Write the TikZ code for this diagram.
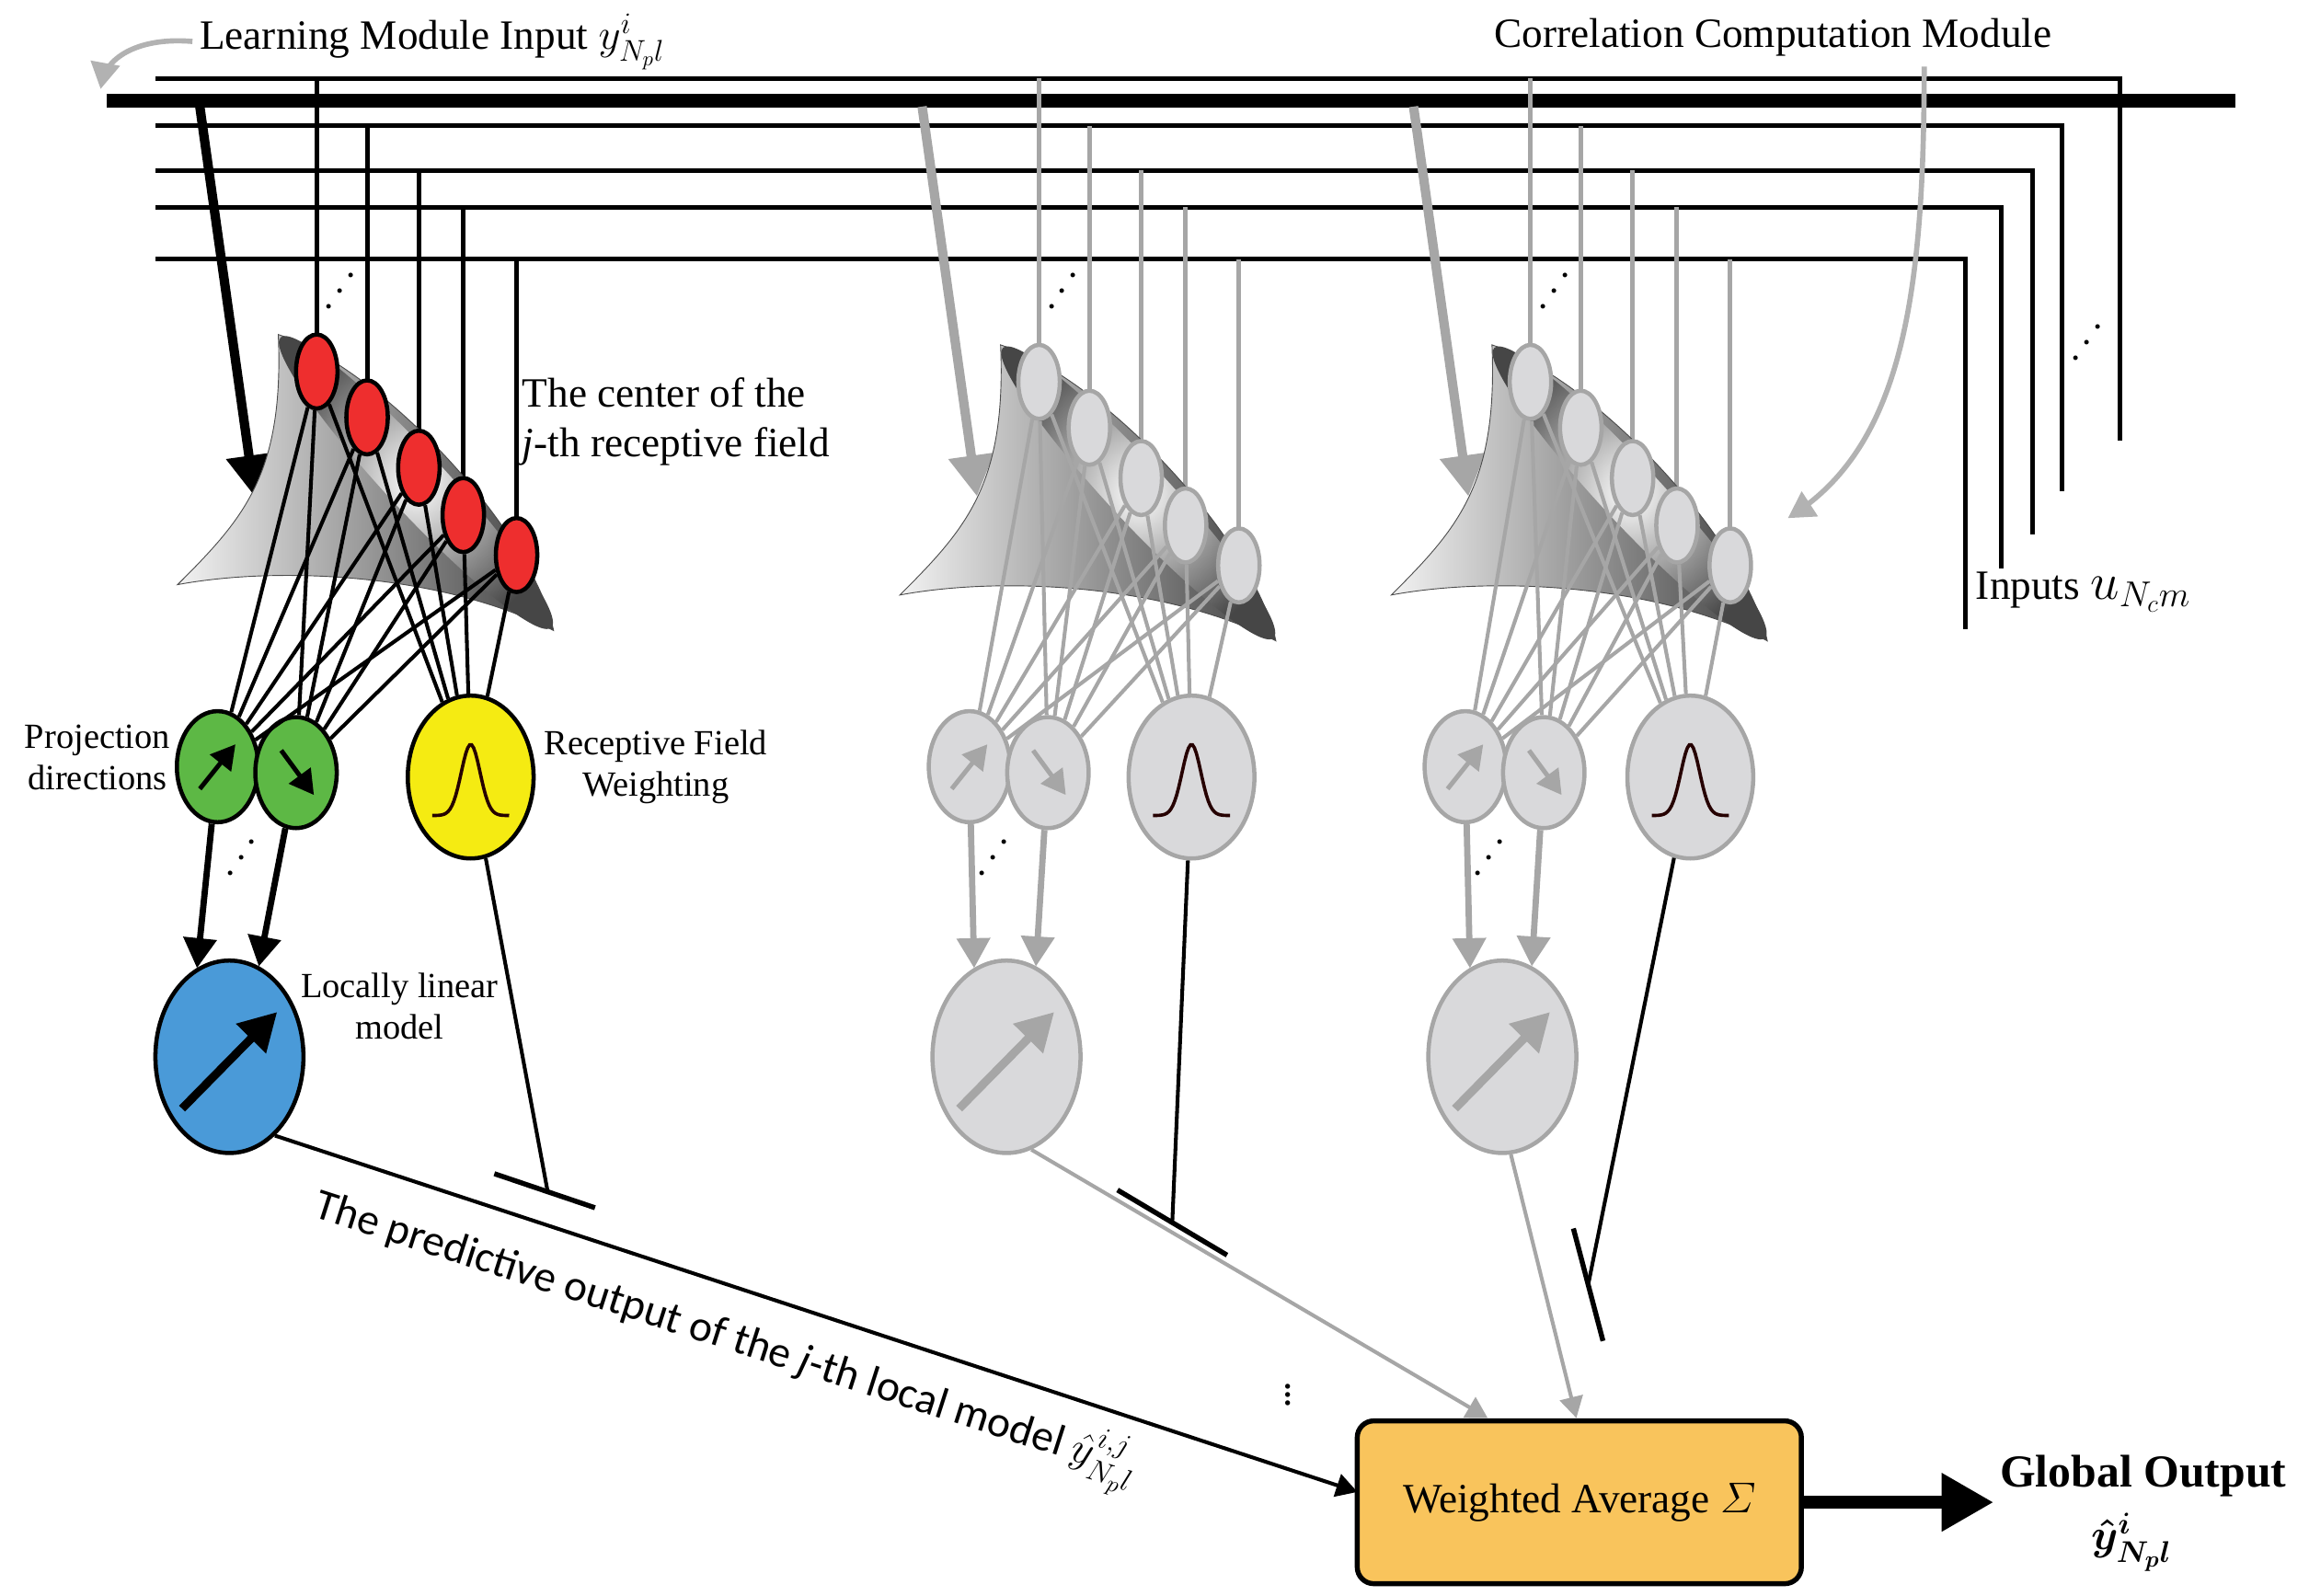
\documentclass[tikz,border=0pt]{standalone}
\usepackage{amsmath}
\usepackage{fontspec}
\setmainfont{Liberation Serif}
\newfontfamily\labelfont{Carlito}
\usetikzlibrary{arrows,shapes.geometric,calc}

\definecolor{rfred}{HTML}{EE2E2E}
\definecolor{pdgreen}{HTML}{5DB845}
\definecolor{wyellow}{HTML}{F5EB12}
\definecolor{llblue}{HTML}{4A9AD8}
\definecolor{ghost}{HTML}{D9D9DB}
\definecolor{avgorange}{HTML}{F9C45C}

\begin{document}
\begin{tikzpicture}[x=0.025cm,y=-0.025cm,font=\fontsize{20}{24}\selectfont]
\useasboundingbox (0,0) rectangle (1560,1078);
\tikzstyle{bus} = [line width=2.2pt]
\tikzstyle{mainbus} = [line width=6.5pt]
\tikzstyle{rfnode} = [ellipse, draw, line width=2pt, minimum width=0.7cm, minimum height=1.25cm, inner sep=0]
\tikzstyle{pdnode} = [ellipse, draw, line width=2pt, minimum width=1.375cm, minimum height=1.875cm, inner sep=0]
\tikzstyle{wnode} = [ellipse, draw, line width=2pt, minimum width=2.125cm, minimum height=2.75cm, inner sep=0]
\tikzstyle{llnode} = [ellipse, draw, line width=2pt, minimum width=2.5cm, minimum height=3.25cm, inner sep=0]
\tikzstyle{link} = [line width=1.8pt]
\tikzstyle{feed} = [line width=3pt, -triangle 60]
\tikzstyle{inarrow} = [line width=4.5pt, -triangle 60]
\tikzstyle{dots} = [rotate=55, inner sep=0]

% input buses
\draw [bus] (105,53) -- (1432,53) -- (1432,298);
\draw [mainbus] (72,68) -- (1510,68);
\draw [bus] (105,85) -- (1393,85) -- (1393,332);
\draw [bus] (105,115) -- (1373,115) -- (1373,361);
\draw [bus] (105,140) -- (1352,140) -- (1352,384);
\draw [bus] (105,175) -- (1328,175) -- (1328,425);
\node [dots] (bd) at (1412,230) {$\cdots$};

% receptive field modules
\foreach \m/\dx/\dy/\gx/\wx/\bx/\lc/\rc/\gc/\yc/\bc/\ac/\oa in {
  1/0/0/0/0/0/black/rfred/pdgreen/wyellow/llblue/black/-60,
  2/488/7/508/487/525/gray!70/ghost/ghost/ghost/ghost/gray!70/-75,
  3/820/7/843/824/860/gray!70/ghost/ghost/ghost/ghost/gray!70/-85}
{
  \coordinate (s\m) at ({135+\dx},72);
  \coordinate (e\m) at ({172+\dx},335);
  \draw [inarrow, \ac] (s\m) -- (e\m);
  \foreach \k/\x/\y/\by in {1/214/251/53, 2/248/282/85, 3/283/316/115, 4/313/348/140, 5/349/375/175}
    \draw [bus, \lc] ({\x+\dx},\by) -- ({\x+\dx},{\y+\dy});
  \node [dots] (vd\m) at ({232+\dx},195) {$\cdots$};
  \begin{scope}[shift={(\dx,\dy)}]
    \shade [left color=gray!10, right color=black!75, draw=gray!60!black, thin]
      (188,226) .. controls (192,320) and (165,350) .. (120,395)
      .. controls (190,382) and (300,388) .. (374,426)
      .. controls (360,360) and (260,250) .. (188,226) -- cycle;
    \shade [inner color=white, outer color=gray!55!black, rotate around={-47:(281,326)}]
      (281,326) ellipse [x radius=3.35cm, y radius=0.5cm];
  \end{scope}
  \foreach \k/\x/\y in {1/214/251, 2/248/282, 3/283/316, 4/313/348, 5/349/375}
    \node [rfnode, draw=\lc, fill=\rc] (r\m-\k) at ({\x+\dx},{\y+\dy}) {};
  \node [pdnode, draw=\lc, fill=\gc] (g\m-1) at ({147+\gx},518) {};
  \node [pdnode, draw=\lc, fill=\gc] (g\m-2) at ({200+\gx},522) {};
  \node [wnode, draw=\lc, fill=\yc] (w\m) at ({318+\wx},525) {};
  \node [llnode, draw=\lc, fill=\bc] (b\m) at ({155+\bx},714) {};
  \foreach \k in {1,...,5} {
    \draw [link, \lc] (r\m-\k) -- (g\m-1);
    \draw [link, \lc] (r\m-\k) -- (g\m-2);
    \draw [link, \lc] (r\m-\k) -- (w\m);
  }
  \draw [line width=1.6pt, black!85!red, shift={(w\m.center)}]
    plot [domain=-26:26, samples=40] (\x, {26-48*exp(-(\x/9)^2)});
  \draw [feed, \ac, line width=2.2pt] ($(g\m-1)+(-12,15)$) -- ($(g\m-1)+(12,-15)$);
  \draw [feed, \ac, line width=2.2pt] ($(g\m-2)+(-10,-15)$) -- ($(g\m-2)+(12,15)$);
  \draw [feed, \ac, line width=4pt] ($(b\m)+(-32,35)$) -- ($(b\m)+(32,-30)$);
  \draw [feed, \ac] (g\m-1) -- (b\m.110);
  \draw [feed, \ac] (g\m-2) -- (b\m.72);
  \coordinate (o\m) at (b\m.\oa);
  \node [dots] (pd\m) at ({165+\gx},578) {$\cdots$};
}

% labels
\node [anchor=west] (lmi) at (130,28) {Learning Module Input $y^{i}_{N_p l}$};
\node (ccm) at (1198,25) {Correlation Computation Module};
\node [anchor=west, align=left] (ctr) at (348,285) {The center of the\\\textit{j}-th receptive field};
\node [anchor=west] (inp) at (1330,400) {Inputs {\fontsize{26}{26}\selectfont$u_{N_c m}$}};
\node [anchor=east, align=center, font=\fontsize{17}{20}\selectfont] (pdtxt) at (120,512) {Projection\\directions};
\node [align=center, font=\fontsize{17}{20}\selectfont] (rfw) at (443,518) {Receptive Field\\Weighting};
\node [align=center, font=\fontsize{17}{20}\selectfont] (llt) at (270,680) {Locally linear\\model};
\node [font=\labelfont\fontsize{21}{24}\selectfont, rotate=-17.8] (pout) at (490,905)
  {The predictive output of the \textit{j}-th local model $\hat{y}^{i,j}_{N_p l}$};
\node (vdot) at (870,938) {$\vdots$};

% output stage
\node [draw, line width=2.4pt, fill=avgorange, rounded corners=8pt, minimum width=7.5cm, minimum height=2.75cm] (avg) at (1067,1015) {Weighted Average $\varSigma$};
\node [font=\bfseries\fontsize{22}{26}\selectfont] (gout) at (1448,997) {Global Output};
\node [font=\fontsize{22}{26}\selectfont] (gy) at (1440,1042) {$\boldsymbol{\hat{y}^{i}_{N_p l}}$};
\coordinate (a1) at (917,1008);
\coordinate (a2) at (1005,958);
\coordinate (a3) at (1065,958);
\draw [feed, line width=1.8pt] (o1) -- (a1);
\draw [feed, gray!70, line width=1.8pt] (o2) -- (a2);
\draw [feed, gray!70, line width=1.8pt] (o3) -- (a3);
\draw [line width=6pt, -triangle 60] (avg.east) -- (gout.west |- avg.east);

% weighting outputs
\coordinate (t1) at (370,805);
\coordinate (t2) at (792,826);
\coordinate (t3) at (1073,868);
\draw [link] (w1) -- (t1);
\draw [link] (w2) -- (t2);
\draw [link] (w3) -- (t3);
\draw [line width=2.4pt] ($(t1)+(-36,-12)$) -- ($(t1)+(32,11)$);
\draw [line width=2.4pt] ($(t2)+(-37,-22)$) -- ($(t2)+(37,22)$);
\draw [line width=2.4pt] ($(t3)+(-10,-38)$) -- ($(t3)+(10,38)$);

% module arrows
\coordinate (lm) at (68,60);
\coordinate (cm) at (1208,350);
\draw [gray!60, line width=2.5pt, -triangle 60] (lmi.west) .. controls (95,25) and (72,38) .. (lm);
\draw [gray!60, line width=2.5pt, -triangle 60] (1300,45) .. controls (1300,200) and (1285,300) .. (cm);
\end{tikzpicture}
\end{document}
